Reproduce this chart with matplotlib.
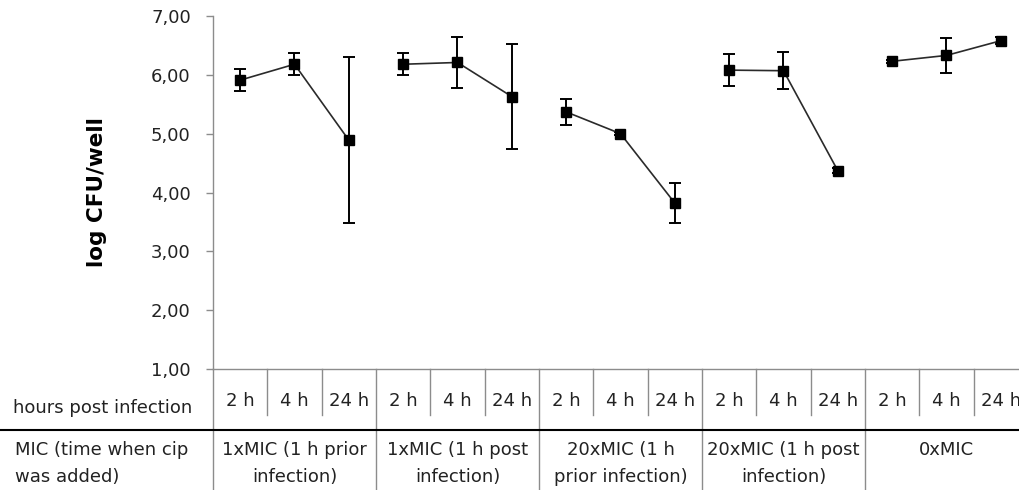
import matplotlib.pyplot as plt
import matplotlib.transforms as mtransforms

# values
hours = ["2 h", "4 h", "24 h"] * 5
groups = ["1xMIC (1 h prior\ninfection)", "1xMIC (1 h post\ninfection)",
          "20xMIC (1 h\nprior infection)", "20xMIC (1 h post\ninfection)", "0xMIC"]
log_cfu = [5.91, 6.18, 4.89,
           6.18, 6.21, 5.63,
           5.37, 5.00, 3.82,
           6.08, 6.07, 4.37,
           6.23, 6.33, 6.58]
err = [0.19, 0.19, 1.41,
       0.19, 0.44, 0.89,
       0.22, 0.03, 0.34,
       0.27, 0.31, 0.04,
       0.03, 0.30, 0.06]
yticks = [1, 2, 3, 4, 5, 6, 7]

plt.rcParams['font.family'] = ['DejaVu Sans']
FS = 13
TXT = '#222222'

fig = plt.figure(figsize=(10.2, 4.9), dpi=100)
ax = fig.add_axes([213 / 1020, 1 - 369 / 490, 815 / 1020, 353 / 490])

xs = [i + 0.5 for i in range(len(log_cfu))]
for g in range(5):
    sl = slice(3 * g, 3 * g + 3)
    ax.errorbar(xs[sl], log_cfu[sl], yerr=err[sl], fmt='s-', color='#2a2a2a',
                mfc='black', mec='black', ms=6.5, lw=1.2, ecolor='black',
                elinewidth=1.4, capsize=4, capthick=1.4, clip_on=False)

ax.set_xlim(0, 15)
ax.set_ylim(1, 7)
ax.set_yticks(yticks)
ax.set_yticklabels([f"{v:.2f}".replace('.', ',') for v in yticks], fontsize=FS, color=TXT)
ax.set_xticks([])
ax.tick_params(axis='y', length=5, width=1, color='#8c8c8c', pad=11)
for s in ['top', 'right']:
    ax.spines[s].set_visible(False)
for s in ['left', 'bottom']:
    ax.spines[s].set_color('#8c8c8c')
    ax.spines[s].set_linewidth(1)
ax.set_ylabel("log CFU/well", fontsize=15.5, fontweight='bold', labelpad=32)

# table below the axis
tr = mtransforms.blended_transform_factory(ax.transData, fig.transFigure)
def fy(px):
    return 1 - px / 490

gray = '#8c8c8c'
# axis line continues through the table
ax.plot([0, 0], [fy(369), fy(490)], color=gray, lw=1, transform=tr, clip_on=False)
for k in range(1, 15):
    bottom = 490 if k % 3 == 0 else 415
    ax.plot([k, k], [fy(369), fy(bottom)], color=gray, lw=1, transform=tr, clip_on=False)

# thick rule between the two rows
fig.add_artist(plt.Line2D([0, 1], [fy(430), fy(430)], color='black', lw=1.5,
                          transform=fig.transFigure))

for x, h in zip(xs, hours):
    ax.text(x, fy(401), h, transform=tr, ha='center', va='center', fontsize=FS, color=TXT)

for g, label in enumerate(groups):
    for j, line in enumerate(label.split('\n')):
        ax.text(3 * g + 1.5, fy(450 + 27 * j), line, transform=tr, ha='center',
                va='center', fontsize=FS, color=TXT)

fig.text(13 / 1020, fy(408), "hours post infection", ha='left', va='center', fontsize=FS, color=TXT)
fig.text(15 / 1020, fy(450), "MIC (time when cip", ha='left', va='center', fontsize=FS, color=TXT)
fig.text(15 / 1020, fy(477), "was added)", ha='left', va='center', fontsize=FS, color=TXT)

fig.savefig("out.png", dpi=100)
